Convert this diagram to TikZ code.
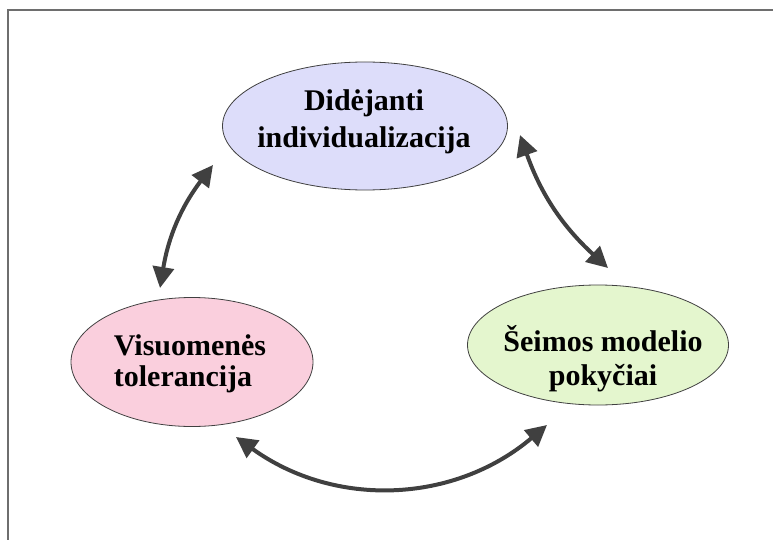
\documentclass[tikz,border=0pt]{standalone}
\usepackage{fontspec}
\setmainfont{Liberation Serif}
\usetikzlibrary{arrows.meta,shapes.geometric}
\definecolor{topfill}{RGB}{221,221,250}
\definecolor{leftfill}{RGB}{250,207,221}
\definecolor{rightfill}{RGB}{228,246,206}
\definecolor{arrowgray}{RGB}{64,64,64}
\definecolor{framegray}{RGB}{110,110,110}
\tikzset{
  bubble/.style={ellipse, draw=black!75, line width=0.8pt, inner sep=0pt},
  label/.style={font=\fontsize{30}{37}\selectfont\bfseries, text=black},
  link/.style={draw=arrowgray, line width=4pt,
    {Triangle[length=21pt,width=21pt]}-{Triangle[length=21pt,width=21pt]}}
}
\begin{document}
\begin{tikzpicture}[x=1pt,y=-1pt]
\useasboundingbox (0,0) rectangle (773,540);
\fill[white] (0,0) rectangle (773,540);
\draw[framegray, line width=2pt] (8,540) -- (8,10.5) -- (773,10.5);
\node[bubble, fill=topfill, minimum width=285pt, minimum height=128pt] (top) at (365,126) {};
\node[label, align=center] (toptext) at (364,122) {Didėjanti\\individualizacija};
\node[bubble, fill=leftfill, minimum width=242pt, minimum height=129pt] (left) at (192,362) {};
\node[label, font=\fontsize{30}{31}\selectfont\bfseries, align=left] (lefttext) at (190,364) {Visuomenės\\tolerancija};
\node[bubble, fill=rightfill, minimum width=261pt, minimum height=120pt] (right) at (598,345) {};
\node[label, font=\fontsize{30}{34}\selectfont\bfseries, align=center] (righttext) at (603,359) {Šeimos modelio\\pokyčiai};
\coordinate (a1) at (213,165);
\coordinate (a2) at (160,288);
\coordinate (b1) at (520,135);
\coordinate (b2) at (608,268);
\coordinate (c1) at (236,437);
\coordinate (c2) at (547,425);
\draw[link] (a1) to[bend right=14] (a2);
\draw[link] (b1) to[bend right=14] (b2);
\draw[link] (c1) to[bend right=38] (c2);
\end{tikzpicture}
\end{document}
